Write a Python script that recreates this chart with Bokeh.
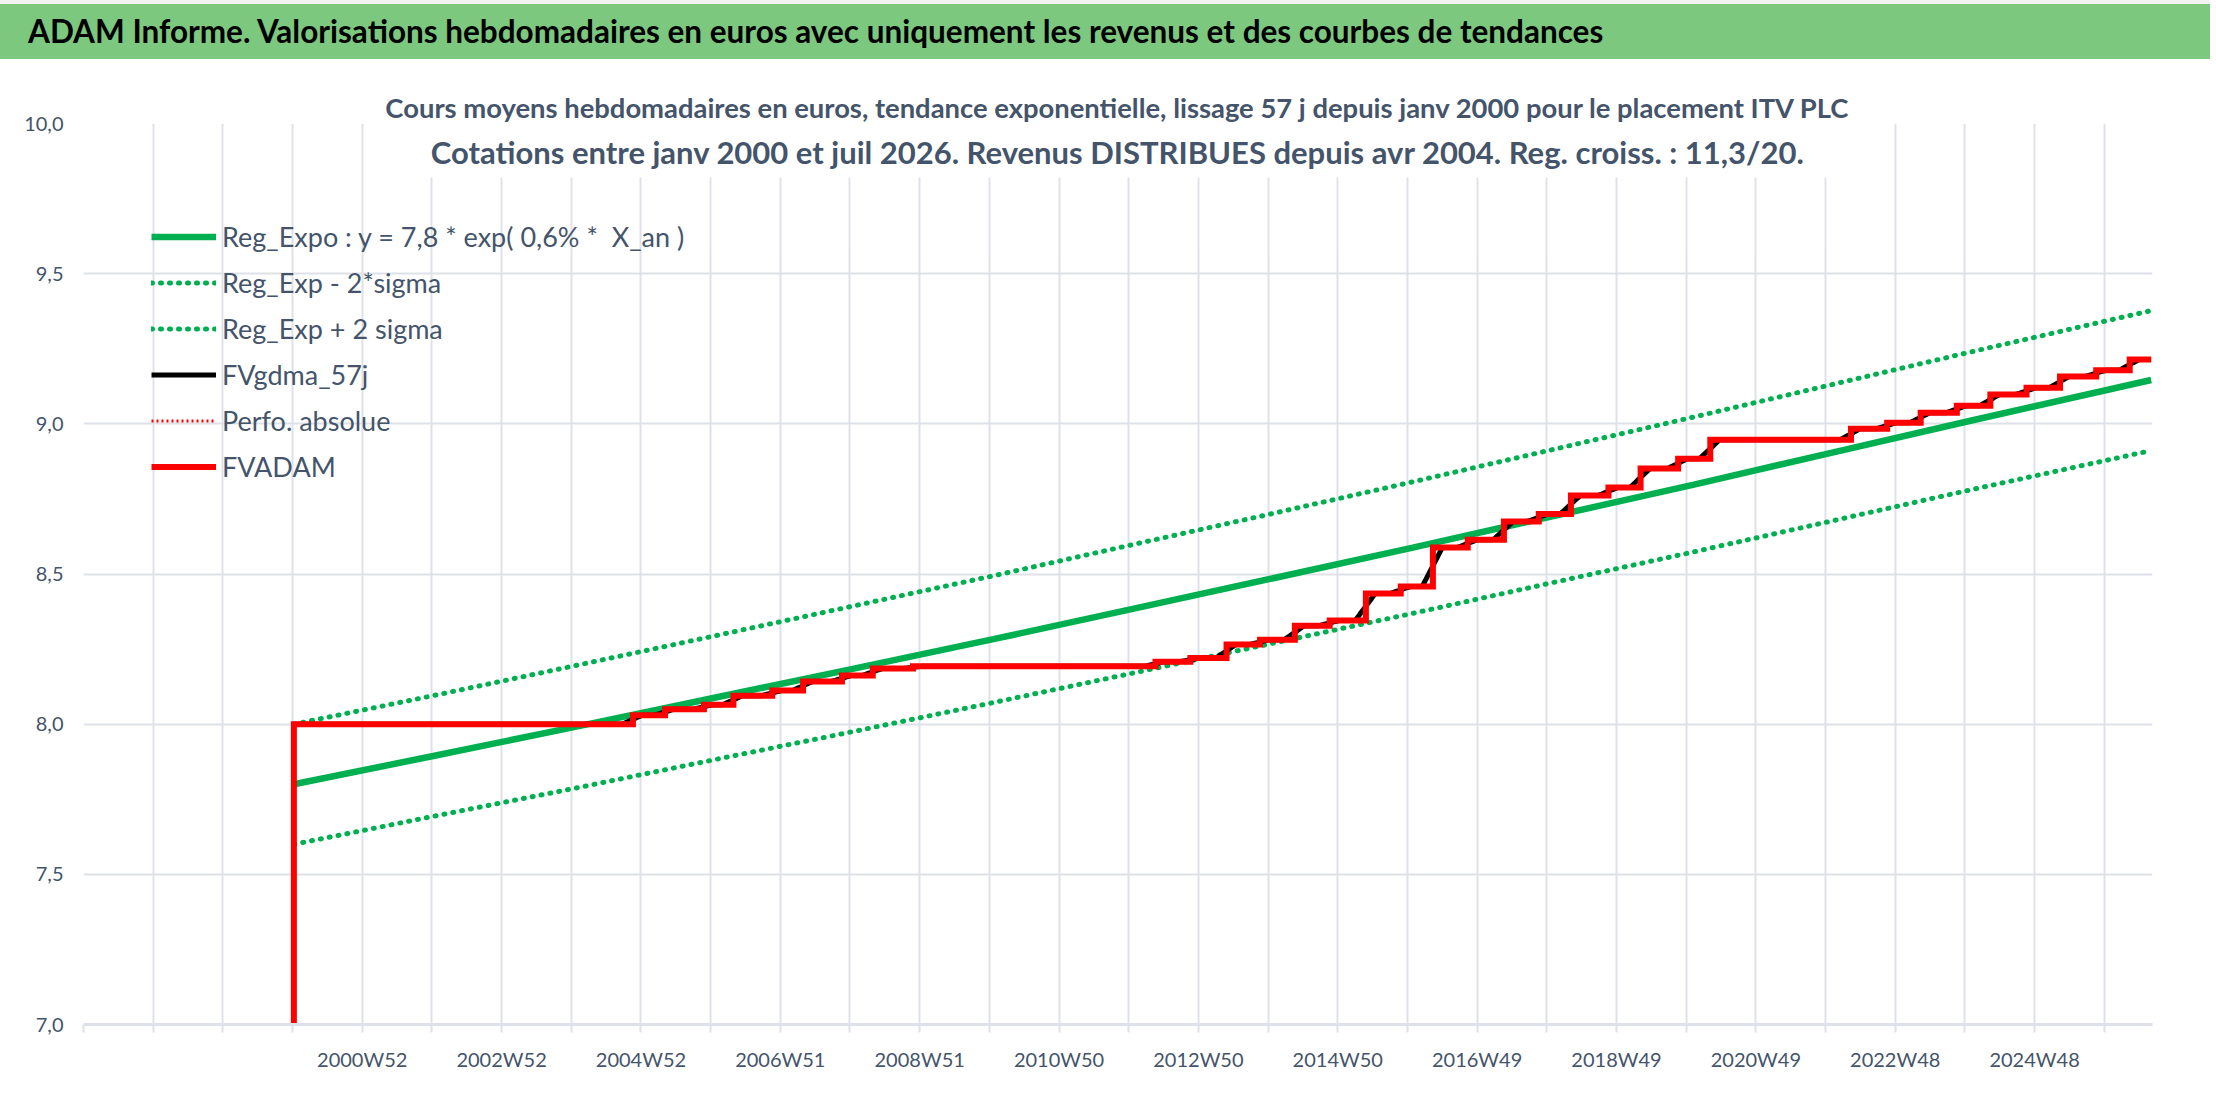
import numpy as np
import pandas as pd
from bokeh.plotting import figure
from bokeh.models import (Range1d, FixedTicker, Legend, LegendItem, Label, Title,
                          BoxAnnotation, Div)
from bokeh.layouts import column
from bokeh.embed import file_html
from bokeh.resources import INLINE

FONT = "Lato"
TXT = "#44546A"
GRID = "#DEE2E8"
GREEN = "#00B050"
RED = "#FF0000"
BAR = "#7DC87F"

# ---------------- data ----------------
# x = weekly category index (0 = first category of the axis, 52 categories per gridline)
x_tick_weeks = [208, 312, 416, 520, 624, 728, 832, 936, 1040, 1144, 1248, 1352, 1456]
x_tick_labels = ["2000W52", "2002W52", "2004W52", "2006W51", "2008W51", "2010W50",
                 "2012W50", "2014W50", "2016W49", "2018W49", "2020W49", "2022W48", "2024W48"]
n_weeks = 1544

y_ticks = [7, 7.5, 8, 8.5, 9, 9.5, 10]
y_tick_labels = ["7,0", "7,5", "8,0", "8,5", "9,0", "9,5", "10,0"]

# FVADAM : value changes (week index, new value)
fv_weeks = [157, 157, 410, 434, 463, 485, 514, 537, 566, 589, 619, 800, 826, 853, 878,
            904, 930, 957, 983, 1007, 1033, 1060, 1086, 1110, 1138, 1162, 1190, 1214,
            1319, 1346, 1371, 1398, 1423, 1450, 1475, 1502, 1527, 1543]
fv_values = [7.00, 8.00, 8.03, 8.05, 8.065, 8.095, 8.112, 8.142, 8.162, 8.185, 8.193,
             8.208, 8.22, 8.265, 8.281, 8.328, 8.345, 8.435, 8.458, 8.588, 8.614, 8.675,
             8.70, 8.761, 8.788, 8.851, 8.884, 8.947, 8.984, 9.004, 9.037, 9.06, 9.098,
             9.12, 9.158, 9.178, 9.214, 9.214]
smooth_weeks = 15   # width of the smoothing window, in weeks

# exponential regression and +/- 2 sigma channel
reg_weeks = [157, 261, 366, 470, 574, 679, 783, 887, 992, 1096, 1201, 1305, 1409, 1543]
reg_values = [7.800, 7.894, 7.990, 8.087, 8.184, 8.283, 8.384, 8.485, 8.588, 8.692,
              8.797, 8.904, 9.011, 9.146]
reg_low_values = [7.600, 7.693, 7.786, 7.881, 7.975, 8.072, 8.170, 8.269, 8.369, 8.471,
                  8.573, 8.677, 8.781, 8.911]
reg_high_values = [8.000, 8.095, 8.194, 8.293, 8.393, 8.494, 8.598, 8.701, 8.807, 8.914,
                   9.022, 9.131, 9.240, 9.377]

# Perfo. absolue : no value inside the displayed range
perfo_weeks = [157]
perfo_values = [float("nan")]

title_text = ("ADAM Informe. Valorisations hebdomadaires en euros avec uniquement les "
              "revenus et des courbes de tendances")
sub1 = ("Cours moyens hebdomadaires en euros, tendance exponentielle, lissage 57 j "
        "depuis janv 2000 pour le placement ITV PLC")
sub2 = ("Cotations entre janv 2000 et juil 2026. Revenus DISTRIBUES depuis avr 2004. "
        "Reg. croiss. : 11,3/20.")

legend_labels = ["Reg_Expo : y = 7,8 * exp( 0,6% *  X_an )", "Reg_Exp - 2*sigma",
                 "Reg_Exp + 2 sigma", "FVgdma_57j", "Perfo. absolue", "FVADAM"]

# smoothed series (moving average of the weekly FVADAM values)
wk = np.arange(fv_weeks[1], fv_weeks[-1] + 1)
s = pd.Series(fv_values[1:], index=fv_weeks[1:])
s = s[~s.index.duplicated(keep="last")].reindex(wk).ffill()
smooth = s.rolling(smooth_weeks, center=True, min_periods=1).mean()

W = 2210
FL, FR = 83, 2152          # frame left / right on the page
TB_H = 59

# ---------------- title bar ----------------
tb = Div(text=title_text, width=W, height=TB_H, margin=0,
         styles={"background-color": BAR, "color": "black", "font-family": "Lato",
                 "font-weight": "bold", "font-size": "31.5px", "line-height": "55px",
                 "padding-left": "28px", "box-sizing": "border-box",
                 "border-top": "4px solid #F2F2F2", "white-space": "nowrap",
                 "overflow": "hidden"})

# ---------------- main chart ----------------
MH = 1104 - TB_H
p = figure(width=W, height=MH, x_range=Range1d(0, n_weeks), y_range=Range1d(7, 10),
           toolbar_location=None, output_backend="svg", margin=0,
           min_border_left=FL, min_border_right=W - FR, min_border_top=123 - TB_H,
           min_border_bottom=MH - (1024 - TB_H))
p.outline_line_color = None
p.background_fill_color = "white"
p.border_fill_color = "white"

grid_ticks = list(range(0, n_weeks, 52))
p.xaxis.ticker = FixedTicker(ticks=x_tick_weeks,
                             minor_ticks=[g for g in grid_ticks if g not in x_tick_weeks])
p.xaxis.major_label_overrides = {int(w): l for w, l in zip(x_tick_weeks, x_tick_labels)}
p.xgrid.ticker = FixedTicker(ticks=grid_ticks)
p.yaxis.ticker = FixedTicker(ticks=y_ticks)
p.yaxis.major_label_overrides = {(int(v) if v == int(v) else v): l
                                 for v, l in zip(y_ticks, y_tick_labels)}

for g in (p.xgrid, p.ygrid):
    g.grid_line_color = GRID
    g.grid_line_width = 2

p.xaxis.axis_line_color = GRID
p.xaxis.axis_line_width = 3
p.xaxis.major_tick_line_color = GRID
p.xaxis.minor_tick_line_color = GRID
p.xaxis.major_tick_line_width = 2
p.xaxis.minor_tick_line_width = 2
p.xaxis.major_tick_out = 8
p.xaxis.minor_tick_out = 8
p.xaxis.major_tick_in = 0
p.xaxis.minor_tick_in = 0
p.xaxis.major_label_standoff = 14
p.yaxis.axis_line_color = None
p.yaxis.major_tick_line_color = None
p.yaxis.minor_tick_line_color = None
p.yaxis.major_tick_out = 0
p.yaxis.minor_tick_out = 0
p.yaxis.major_label_standoff = 20
for ax in (p.xaxis, p.yaxis):
    ax.major_label_text_font = FONT
    ax.major_label_text_font_size = "20px"
    ax.major_label_text_color = TXT

# white area behind the chart title
p.add_layout(BoxAnnotation(left=222, right=1317, bottom=9.82, top=10,
                           fill_color="white", fill_alpha=1, line_color=None))

r_low = p.line(reg_weeks, reg_low_values, line_color=GREEN, line_width=5,
               line_dash="1 8", line_cap="round")
r_high = p.line(reg_weeks, reg_high_values, line_color=GREEN, line_width=5,
                line_dash="1 8", line_cap="round")
r_reg = p.line(reg_weeks, reg_values, line_color=GREEN, line_width=6.5)
r_smooth = p.line(wk, smooth.values, line_color="black", line_width=5)
r_perfo = p.line(perfo_weeks, perfo_values, line_color=RED, line_width=3,
                 line_dash="2 3")
r_fv = p.step(fv_weeks, fv_values, mode="after", line_color=RED, line_width=6,
              line_join="miter")

legend = Legend(items=[LegendItem(label=legend_labels[0], renderers=[r_reg]),
                       LegendItem(label=legend_labels[1], renderers=[r_low]),
                       LegendItem(label=legend_labels[2], renderers=[r_high]),
                       LegendItem(label=legend_labels[3], renderers=[r_smooth]),
                       LegendItem(label=legend_labels[4], renderers=[r_perfo]),
                       LegendItem(label=legend_labels[5], renderers=[r_fv])],
                location=(68, 537), padding=0, margin=0, spacing=5,
                label_height=41, glyph_height=41, glyph_width=65, label_standoff=6,
                label_text_font=FONT, label_text_font_size="27px",
                label_text_color=TXT, border_line_color=None,
                background_fill_alpha=0)
p.add_layout(legend)

p.add_layout(Title(text=sub1, align="center", text_font=FONT, text_font_style="bold",
                   text_font_size="27.4px", text_color=TXT, standoff=0), "above")
p.add_layout(Label(x=n_weeks / 2, y=9.905, text=sub2, text_align="center",
                   text_baseline="middle", text_font=FONT, text_font_style="bold",
                   text_font_size="31px", text_color=TXT))

layout = column(tb, p, spacing=0)
open("out.html", "w").write(file_html(layout, INLINE))
